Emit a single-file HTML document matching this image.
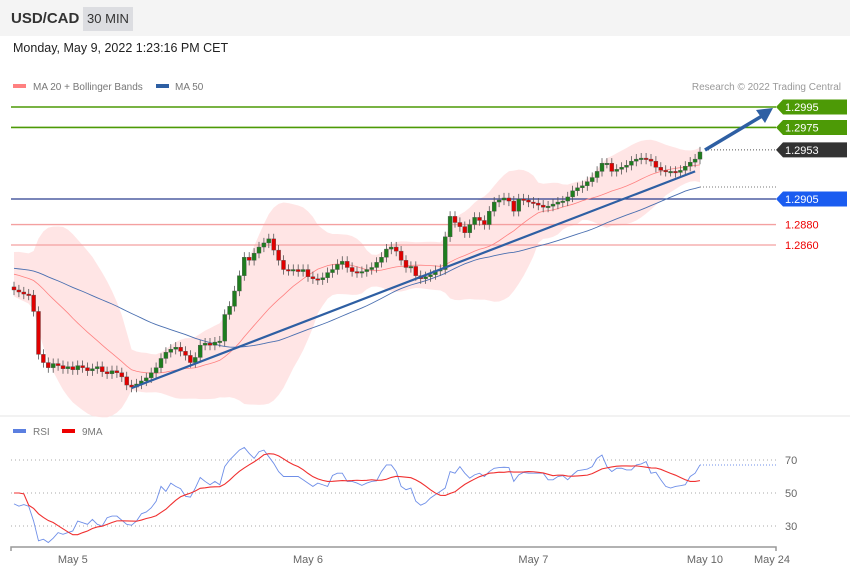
<!DOCTYPE html>
<html><head><meta charset="utf-8">
<style>
body{margin:0;width:850px;height:576px;background:#fff;font-family:"Liberation Sans",sans-serif;overflow:hidden;position:relative}
.hdr{position:absolute;left:0;top:0;width:850px;height:36px;background:#f4f4f4}
</style></head><body>
<div class="hdr">
<div style="position:absolute;left:11px;top:10px;font-size:15px;font-weight:bold;color:#333">USD/CAD</div>
<div style="position:absolute;left:83px;top:7px;width:50px;height:24px;background:#dcdde1;font-size:13px;color:#333;line-height:24px;text-align:center">30 MIN</div>
</div>
<div style="position:absolute;left:13px;top:41px;font-size:12.5px;color:#222">Monday, May 9, 2022 1:23:16 PM CET</div>
<svg id="c" width="850" height="576" style="position:absolute;left:0;top:0" xmlns="http://www.w3.org/2000/svg"></svg>
<script>
const priorCloses=[1.2842,1.2838,1.2845,1.2840,1.2836,1.2843,1.2848,1.2841,1.2837,1.2844,
1.2850,1.2846,1.2839,1.2835,1.2842,1.2847,1.2843,1.2838,1.2833,1.2840,
1.2845,1.2849,1.2844,1.2837,1.2834,1.2839,1.2846,1.2842,1.2836,1.2832,
1.2838,1.2843,1.2840,1.2835,1.2830,1.2836,1.2841,1.2838,1.2833,1.2829,
1.2834,1.2839,1.2836,1.2830,1.2826,1.2822,1.2825,1.2820,1.2818];
const closes=[1.2816,1.2814,1.2812,1.2811,1.2795,1.2753,
1.2745,1.2740,1.2744,1.2742,
1.2739,1.2741,1.2738,1.2742,1.2740,1.2737,1.2739,1.2741,1.2736,1.2734,1.2737,1.2735,1.2731,
1.2723,1.2721,
1.2724,1.2727,1.2730,1.2735,1.2740,1.2749,
1.2755,1.2758,1.2760,1.2756,1.2752,1.2745,1.2750,
1.2762,1.2764,1.2762,1.2765,1.2766,
1.2792,1.2800,1.2815,1.2830,1.2848,
1.2845,1.2852,1.2858,1.2862,1.2866,1.2855,1.2845,1.2836,
1.2835,1.2836,1.2834,1.2836,1.2829,1.2827,1.2826,1.2828,
1.2833,1.2836,1.2841,1.2844,1.2838,1.2834,1.2833,1.2834,1.2836,
1.2838,1.2843,1.2848,1.2856,1.2858,1.2854,1.2845,
1.2838,1.2839,1.2830,1.2827,1.2829,1.2831,1.2835,1.2836,
1.2868,1.2888,1.2882,1.2878,1.2872,1.2880,1.2887,1.2884,
1.2880,1.2893,1.2902,1.2904,1.2906,1.2903,1.2893,1.2905,
1.2904,1.2902,1.2901,1.2899,1.2897,1.2898,1.2900,1.2902,1.2903,1.2907,
1.2913,1.2916,1.2918,1.2922,1.2926,1.2932,1.2940,1.2940,1.2932,
1.2934,1.2936,1.2938,1.2942,1.2944,1.2945,1.2944,1.2942,1.2936,
1.2933,1.2932,1.2932,1.2931,1.2933,1.2937,1.2941,1.2944,1.2951];
const rsiValues=[43.4,42,43,42,33,21,22,20,22.6,26,25,26,27,33,32,31,34,31,30,35,
36,36,33.5,31,30.5,33,37.4,38.5,41,45,54,51,56,54,52.6,48,47.5,53,59.4,57,
55,57,55,66,70,73,76,77.6,74,71,75,76,72,68,63,60,60,60,60,58,
56,54,56,55,54,60.6,62,62,57,57,56,54.6,56,57,57.4,63,67,67,63,54,
52,53,45,42.6,44,47,49,51,53,63,62,66,62,59,61,62,60,63,65,65.4,
65.6,65.4,57,61,62.5,62,62,62,62,58,58,60,60.5,58,61,63.5,64,64.5,66,71,
73,66,63,65,65,64,64,67,67.6,69,62,62.6,58,54,53,54,54.4,55,60,62,67];
const levels=[1.2995,1.2975,1.2953,1.2905,1.2880,1.2860];
const levelLabels=["1.2995","1.2975","1.2953","1.2905","1.2880","1.2860"];
const rsiTicks=[70,50,30];
const dateLabels=["May 5","May 6","May 7","May 10","May 24"];
const dateIdx=[12,60,106,141,155];
const trendStart=[24,1.2720];
const trendEnd=[139,1.2932];

const svg=document.getElementById('c');const NS="http://www.w3.org/2000/svg";
function el(t,a,p){const e=document.createElementNS(NS,t);for(const k in a)e.setAttribute(k,a[k]);(p||svg).appendChild(e);return e;}
const X=i=>14+i*4.9;
const Y=p=>107+(1.2995-p)*10222;
const RY=v=>493-(v-50)*1.65;
let s=el('line',{x1:0,y1:416,x2:850,y2:416,stroke:'#e6e6e6'});

let lg=el('g',{});
el('rect',{x:13,y:84,width:13,height:4,fill:'#ff8080'},lg);
el('text',{x:33,y:90,'font-size':10,fill:'#777'},lg).textContent="MA 20 + Bollinger Bands";
el('rect',{x:156,y:84,width:13,height:4,fill:'#2e5fa3'},lg);
el('text',{x:175,y:90,'font-size':10,fill:'#777'},lg).textContent="MA 50";
let cr=el('text',{x:841,y:90,'font-size':10,fill:'#999','text-anchor':'end'});cr.textContent="Research © 2022 Trading Central";

const all=priorCloses.concat(closes);const P=priorCloses.length;
const n=closes.length;const ma20=[],up=[],lo=[],ma50=[];
for(let i=0;i<n;i++){const j=i+P;const w=all.slice(j-19,j+1);const m=w.reduce((a,b)=>a+b)/w.length;
const sd=Math.sqrt(w.reduce((a,b)=>a+(b-m)**2,0)/w.length);ma20.push(m);up.push(m+2*sd+0.0006);lo.push(m-2*sd-0.0006);
const w5=all.slice(j-49,j+1);ma50.push(w5.reduce((a,b)=>a+b)/w5.length);}
let band="M"+up.map((v,i)=>X(i)+","+Y(v)).join("L")+"L"+lo.map((v,i)=>X(i)+","+Y(v)).reverse().join("L")+"Z";
let b=el('path',{d:band,fill:'#ffdcdc','fill-opacity':0.75});
const lcol=['#4d9a06','#4d9a06',null,'#2a3f8f','#f4a0a0','#f4a0a0'];
const tagcol=['#4d9a06','#4d9a06','#333','#1a5cf0',null,null];
levels.forEach((p,k)=>{const y=Y(p);
 if(k==2){let d=el('line',{x1:705,y1:y,x2:776,y2:y,stroke:'#555','stroke-dasharray':'1,2'});}
 else{let l=el('line',{x1:11,y1:y,x2:776,y2:y,stroke:lcol[k],'stroke-width':k<2?1.6:1.3});}
 if(tagcol[k]){let t=el('path',{d:`M776,${y}L783,${y-7.5}H847V${y+7.5}H783Z`,fill:tagcol[k]});
  el('text',{x:785,y:y+4,'font-size':11,fill:'#fff'}).textContent=levelLabels[k];}
 else{let t=el('text',{x:785,y:y+4,'font-size':11,fill:'#e00'});t.textContent=levelLabels[k];}
});
let dl=el('line',{x1:700,y1:187,x2:776,y2:187,stroke:'#777','stroke-dasharray':'1,2'});
let m20=el('path',{d:"M"+ma20.map((v,i)=>X(i)+","+Y(v)).join("L"),fill:'none',stroke:'#ff8080','stroke-width':0.8});
let m50=el('path',{d:"M"+ma50.map((v,i)=>X(i)+","+Y(v)).join("L"),fill:'none',stroke:'#4a6fb0','stroke-width':0.9});
for(let i=0;i<n;i++){const o=i?closes[i-1]:closes[0]+0.0003,c=closes[i];const bull=c>=o;
 const g=el('g',{});
 el('line',{x1:X(i),x2:X(i),y1:Y(Math.max(o,c)+0.0005),y2:Y(Math.min(o,c)-0.0005),stroke:'#555','stroke-width':0.8},g);
 const y1=Y(Math.max(o,c)),h=Math.max(1.5,Y(Math.min(o,c))-y1);
 el('rect',{x:X(i)-2,y:y1,width:4,height:h,fill:bull?'#1e7d1e':'#e00000',stroke:'#555','stroke-width':0.4},g);}
let tl=el('line',{x1:X(trendStart[0]),y1:Y(trendStart[1]),x2:X(trendEnd[0]),y2:Y(trendEnd[1]),stroke:'#2e5fa3','stroke-width':2.2});
let ar=el('g',{});
el('line',{x1:705,y1:150,x2:762,y2:116,stroke:'#2e5fa3','stroke-width':3.5},ar);
el('path',{d:'M773,108L756,110L765,123Z',fill:'#2e5fa3'},ar);
// RSI
const rsi=rsiValues;
const rma=rsi.map((v,i)=>{const w=rsi.slice(Math.max(0,i-8),i+1);return w.reduce((a,b)=>a+b)/w.length;});
rma[0]=50;rma[1]=50;rma[2]=49.5;
let rl=el('g',{});
el('rect',{x:13,y:429,width:13,height:4,fill:'#5b7fe0'},rl);el('text',{x:33,y:435,'font-size':10,fill:'#777'},rl).textContent="RSI";
el('rect',{x:62,y:429,width:13,height:4,fill:'#e00'},rl);el('text',{x:82,y:435,'font-size':10,fill:'#777'},rl).textContent="9MA";
rsiTicks.forEach(t=>{let g=el('line',{x1:11,y1:RY(t),x2:776,y2:RY(t),stroke:'#aaa','stroke-dasharray':'1,3'});
 el('text',{x:785,y:RY(t)+4,'font-size':11,fill:'#666'}).textContent=t;});
let rp=el('path',{d:"M"+rsi.map((v,i)=>X(i)+","+RY(v)).join("L"),fill:'none',stroke:'#6f8fe8','stroke-width':0.9});
let rd=el('line',{x1:X(n-1),y1:RY(rsi[n-1]),x2:776,y2:RY(rsi[n-1]),stroke:'#6f8fe8','stroke-dasharray':'1,2'});
let mp=el('path',{d:"M"+rma.map((v,i)=>X(i)+","+RY(v)).join("L"),fill:'none',stroke:'#f03030','stroke-width':1.1});
let ax=el('path',{d:'M11,551V547H776V551',fill:'none',stroke:'#999','stroke-width':1.5});
dateLabels.forEach((d,k)=>{let t=el('text',{x:Math.min(X(dateIdx[k]),772),y:563,'font-size':11,fill:'#666','text-anchor':'middle'});t.textContent=d;});
</script>
</body></html>
